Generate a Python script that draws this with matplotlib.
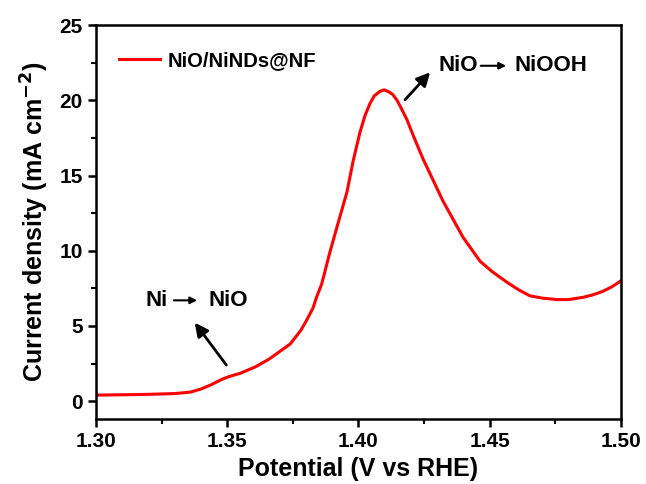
import numpy as np
import matplotlib
matplotlib.use("Agg")
import matplotlib.pyplot as plt

plt.rcParams['font.family'] = ['Liberation Sans', 'DejaVu Sans']
plt.rcParams['font.weight'] = 'bold'
plt.rcParams['mathtext.default'] = 'bf'

# LSV curve
potential = [1.300, 1.310, 1.320, 1.330, 1.336, 1.340, 1.344, 1.348, 1.351, 1.355,
             1.361, 1.366, 1.370, 1.374, 1.378, 1.380, 1.3827, 1.384, 1.386, 1.3891,
             1.392, 1.3956, 1.398, 1.4006, 1.4025, 1.4044, 1.406, 1.4082, 1.4097,
             1.4112, 1.413, 1.4147, 1.4165, 1.4185, 1.421, 1.4246, 1.4322, 1.4398,
             1.4463, 1.451, 1.4566, 1.461, 1.4653, 1.470, 1.4756, 1.480, 1.4855,
             1.489, 1.4931, 1.4965, 1.500]
current = [0.40, 0.42, 0.45, 0.50, 0.60, 0.80, 1.10, 1.45, 1.65, 1.85,
           2.30, 2.80, 3.30, 3.80, 4.70, 5.30, 6.2, 6.9, 7.8, 9.9,
           11.7, 13.9, 16.0, 17.9, 19.0, 19.8, 20.3, 20.6, 20.7,
           20.6, 20.4, 20.0, 19.4, 18.7, 17.6, 16.1, 13.3, 10.9,
           9.3, 8.6, 7.9, 7.4, 7.0, 6.85, 6.75, 6.75, 6.9,
           7.05, 7.3, 7.6, 8.0]
series_label = "NiO/NiNDs@NF"

fig = plt.figure(figsize=(6.46, 4.84), dpi=100)
ax = fig.add_axes([0.1486, 0.134, 0.8127, 0.814])

ax.plot(potential, current, color='red', lw=2.2, label=series_label)

ax.set_xlim(1.30, 1.50)
ax.set_ylim(-1.2, 25)
ax.set_xticks([1.30, 1.35, 1.40, 1.45, 1.50])
ax.set_xticks([1.325, 1.375, 1.425, 1.475], minor=True)
ax.set_yticks([0, 5, 10, 15, 20, 25])
ax.set_yticks([2.5, 7.5, 12.5, 17.5, 22.5], minor=True)
ax.xaxis.set_major_formatter(matplotlib.ticker.FormatStrFormatter('%.2f'))

for s in ax.spines.values():
    s.set_linewidth(1.8)
ax.tick_params(which='major', direction='out', length=6, width=1.8, labelsize=15)
ax.tick_params(which='minor', direction='out', length=3.5, width=1.5)
for lab in ax.get_xticklabels() + ax.get_yticklabels():
    lab.set_fontweight('bold')

ax.set_xlabel("Potential (V vs RHE)", fontsize=18, fontweight='bold', labelpad=4)
ax.set_ylabel("Current density (mA cm$^{-2}$)", fontsize=18, fontweight='bold', labelpad=6)

ax.legend(loc='upper left', frameon=False, handlelength=2.0,
          handletextpad=0.4, bbox_to_anchor=(0.01, 0.98), prop={'weight': 'bold', 'size': 14.5})

tfont = dict(fontsize=16, fontweight='bold', va='center', ha='left')
# upper annotation
ax.annotate('', xy=(1.4280, 22.0), xytext=(1.4170, 19.9),
            arrowprops=dict(arrowstyle='-|>', color='black', lw=2, mutation_scale=20))
ax.text(1.4303, 22.3, "NiO", **tfont)
ax.annotate('', xy=(1.4573, 22.3), xytext=(1.4455, 22.3),
            arrowprops=dict(arrowstyle='-|>', color='black', lw=1.5, mutation_scale=10))
ax.text(1.4596, 22.3, "NiOOH", **tfont)

# lower annotation
ax.annotate('', xy=(1.3370, 5.36), xytext=(1.3503, 2.25),
            arrowprops=dict(arrowstyle='-|>', color='black', lw=2, mutation_scale=20))
ax.text(1.3187, 6.7, "Ni", **tfont)
ax.annotate('', xy=(1.3396, 6.7), xytext=(1.3286, 6.7),
            arrowprops=dict(arrowstyle='-|>', color='black', lw=1.5, mutation_scale=10))
ax.text(1.3427, 6.7, "NiO", **tfont)

fig.savefig("out.png", dpi=100)
